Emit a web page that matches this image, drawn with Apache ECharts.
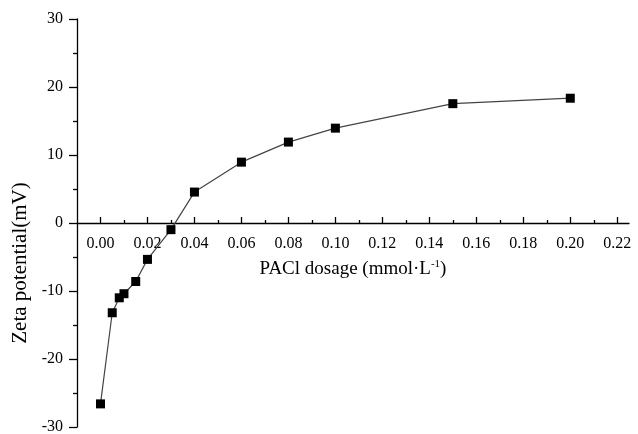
<!DOCTYPE html>
<html>
<head>
<meta charset="utf-8">
<script src="https://cdn.jsdelivr.net/npm/echarts@6/dist/echarts.min.js"></script>
<style>html,body{margin:0;padding:0;background:#fff;}#c{width:638px;height:434px;}</style>
</head>
<body>
<div id="c"></div>
<script>
// PACl dosage (mmol/L)
const dosage = [0, 0.005, 0.008, 0.01, 0.015, 0.02, 0.03, 0.04, 0.06, 0.08, 0.10, 0.15, 0.20];
// Zeta potential (mV)
const zeta = [-26.6, -13.2, -11.0, -10.4, -8.6, -5.35, -0.98, 4.55, 8.95, 11.9, 13.95, 17.55, 18.35];
// tick values
const xMajorTicks = [0, 0.02, 0.04, 0.06, 0.08, 0.10, 0.12, 0.14, 0.16, 0.18, 0.20, 0.22];
const xMinorTicks = [0.01, 0.03, 0.05, 0.07, 0.09, 0.11, 0.13, 0.15, 0.17, 0.19, 0.21];
const yTicks = [-30, -20, -10, 0, 10, 20, 30];

const FONT = "'Liberation Serif', 'Times New Roman', serif";
// grid: top 19, bottom 7 -> plot height 408; y = 0 sits half way, 204 px above the bottom edge
const ZERO_OFFSET = -204;
const chart = echarts.init(document.getElementById('c'), null, {renderer: 'canvas'});
chart.setOption({
  animation: false,
  backgroundColor: '#fff',
  grid: {left: 77, right: 9, top: 19, bottom: 7, containLabel: false, outerBoundsMode: 'none'},
  xAxis: [{
    type: 'value',
    min: -0.01, max: 0.225,
    offset: ZERO_OFFSET,
    name: '{a|PACl dosage (mmol·L}{s|-1}{a|)}',
    nameLocation: 'middle',
    nameGap: 36,
    nameTextStyle: {
      color: '#000', fontFamily: FONT, fontSize: 19,
      rich: {
        a: {color: '#000', fontFamily: FONT, fontSize: 19, lineHeight: 20},
        s: {color: '#000', fontFamily: FONT, fontSize: 11, verticalAlign: 'top', lineHeight: 20}
      }
    },
    axisLine: {onZero: false, lineStyle: {color: '#000', width: 1.3}},
    axisTick: {show: true, inside: true, length: 6, customValues: xMajorTicks, lineStyle: {color: '#000', width: 1.3}},
    axisLabel: {show: true, customValues: xMajorTicks, margin: 13, color: '#000', fontFamily: FONT, fontSize: 16,
      formatter: v => v.toFixed(2)},
    splitLine: {show: false}
  }, {
    type: 'value',
    position: 'bottom',
    min: -0.01, max: 0.225,
    offset: ZERO_OFFSET,
    axisLine: {show: false, onZero: false},
    axisTick: {show: true, inside: true, length: 3, customValues: xMinorTicks, lineStyle: {color: '#000', width: 1.3}},
    axisLabel: {show: false},
    splitLine: {show: false}
  }],
  yAxis: {
    type: 'value',
    min: -30, max: 30, interval: 10,
    name: 'Zeta potential(mV)',
    nameLocation: 'middle',
    nameGap: 44,
    nameTextStyle: {color: '#000', fontFamily: FONT, fontSize: 21, padding: [0, 80, 0, 0]},
    axisLine: {onZero: false, lineStyle: {color: '#000', width: 1.3}},
    axisTick: {show: true, length: 8, lineStyle: {color: '#000', width: 1.3}},
    minorTick: {show: true, splitNumber: 2, length: 4, lineStyle: {color: '#000', width: 1.3}},
    axisLabel: {margin: 14, color: '#000', fontFamily: FONT, fontSize: 16},
    splitLine: {show: false}
  },
  series: [{
    type: 'line',
    xAxisIndex: 0,
    data: dosage.map((d, i) => [d, zeta[i]]),
    symbol: 'rect',
    symbolSize: 9,
    itemStyle: {color: '#000'},
    lineStyle: {color: '#444', width: 1.2},
    z: 5
  }]
});
</script>
</body>
</html>
